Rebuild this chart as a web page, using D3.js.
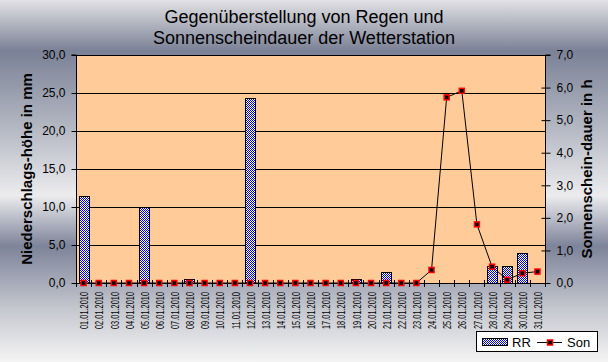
<!DOCTYPE html>
<html>
<head>
<meta charset="utf-8">
<script src="https://cdn.jsdelivr.net/npm/d3@7"></script>
<style>
html,body{margin:0;padding:0;background:#fff;}
svg{display:block;}
text{font-family:"Liberation Sans",Arial,sans-serif;fill:#000;}
</style>
</head>
<body>
<svg id="chart" width="608" height="362"></svg>
<script>
const dates = ["01.01.2010","02.01.2010","03.01.2010","04.01.2010","05.01.2010","06.01.2010","07.01.2010","08.01.2010","09.01.2010","10.01.2010","11.01.2010","12.01.2010","13.01.2010","14.01.2010","15.01.2010","16.01.2010","17.01.2010","18.01.2010","19.01.2010","20.01.2010","21.01.2010","22.01.2010","23.01.2010","24.01.2010","25.01.2010","26.01.2010","27.01.2010","28.01.2010","29.01.2010","30.01.2010","31.01.2010"];
const rr  = [11.4,0,0,0,10.0,0,0,0.5,0,0,0,24.4,0,0,0,0,0,0,0.5,0,1.4,0,0,0,0,0,0,2.2,2.2,3.9,0];
const son = [0,0,0,0,0,0,0,0,0,0,0,0,0,0,0,0,0,0,0,0,0,0,0,0.4,5.7,5.9,1.8,0.5,0.1,0.3,0.35];
const leftTicks = [0,5,10,15,20,25,30];
const rightTicks = [0,1,2,3,4,5,6,7];
const titleLines = ["Gegenüberstellung von Regen und","Sonnenscheindauer der Wetterstation"];
const leftTitle = "Niederschlags-höhe in mm";
const rightTitle = "Sonnenschein-dauer in h";
const seriesNames = ["RR","Son"];

const fmt = v => v.toFixed(1).replace(".", ",");
const svg = d3.select("#chart");
const W = 608, H = 362;
const m = {l:76, r:545, t:55, b:283};

const defs = svg.append("defs");
const grad = defs.append("linearGradient").attr("id","bg").attr("x1",0).attr("y1",0).attr("x2",0).attr("y2",1);
[[0,"#e2e2e5"],[0.14,"#7b8196"],[0.35,"#b3b7c2"],[0.54,"#ececee"],[0.68,"#7d8399"],[0.85,"#c4c6ce"],[1,"#f4f4f4"]]
  .forEach(([o,c]) => grad.append("stop").attr("offset",o).attr("stop-color",c));
const pat = defs.append("pattern").attr("id","chk").attr("patternUnits","userSpaceOnUse").attr("width",2).attr("height",2);
pat.append("rect").attr("width",2).attr("height",2).attr("fill","#fff");
pat.append("rect").attr("width",1).attr("height",1).attr("fill","#0000ff");
pat.append("rect").attr("x",1).attr("y",1).attr("width",1).attr("height",1).attr("fill","#0000ff");

svg.append("rect").attr("width",W).attr("height",H).attr("fill","url(#bg)");

const x = d3.scaleBand().domain(dates).range([m.l, m.r]).padding(0);
const yL = d3.scaleLinear().domain([0,30]).range([m.b, m.t]);
const yR = d3.scaleLinear().domain([0,7]).range([m.b, m.t]);

// plot area
svg.append("rect").attr("x",m.l).attr("y",m.t).attr("width",m.r-m.l).attr("height",m.b-m.t)
  .attr("fill","#ffcc99").attr("stroke","#000").attr("stroke-width",1).attr("shape-rendering","crispEdges");

// gridlines
svg.append("g").selectAll("line").data(leftTicks.filter(v => v>0 && v<30)).join("line")
  .attr("x1",m.l).attr("x2",m.r).attr("y1",d=>Math.round(yL(d))+0.5).attr("y2",d=>Math.round(yL(d))+0.5)
  .attr("stroke","#000").attr("stroke-width",1);

// bars
const bw = 10;
svg.append("g").selectAll("rect").data(dates.map((d,i)=>({d, v:rr[i]})).filter(o=>o.v>0)).join("rect")
  .attr("x", o => Math.round(x(o.d) + (x.bandwidth()-bw)/2)+0.5)
  .attr("y", o => Math.round(yL(o.v))+0.5)
  .attr("width", bw)
  .attr("height", o => Math.round(yL(0)) - Math.round(yL(o.v)))
  .attr("fill","url(#chk)").attr("stroke","#000").attr("stroke-width",1);

// left axis
const gL = svg.append("g").attr("transform",`translate(${m.l+0.5},0)`)
  .call(d3.axisLeft(yL).tickValues(leftTicks).tickFormat(fmt).tickSize(5).tickPadding(6));
gL.selectAll("text").attr("font-size","12px").attr("font-family","'Liberation Sans',Arial,sans-serif");
gL.selectAll("line,path").attr("stroke","#000");
gL.select(".domain").attr("d",`M-5,${m.t}H0V${m.b}`);

// right axis
const gR = svg.append("g").attr("transform",`translate(${m.r+0.5},0)`)
  .call(d3.axisRight(yR).tickValues(rightTicks).tickFormat(fmt).tickSize(5).tickPadding(6));
gR.selectAll("text").attr("font-size","12px").attr("font-family","'Liberation Sans',Arial,sans-serif");
gR.selectAll("line,path").attr("stroke","#000");
gR.selectAll(".tick line").attr("x1",-4);
gR.select(".domain").attr("d",`M5,${m.t}H0V${m.b}`);

// bottom axis
svg.append("line").attr("x1",m.l).attr("x2",m.r+4).attr("y1",m.b+0.5).attr("y2",m.b+0.5).attr("stroke","#000");
const bounds = dates.map(d => x(d)).concat([x(dates[dates.length-1]) + x.bandwidth()]);
svg.append("g").selectAll("line").data(bounds).join("line")
  .attr("x1",d=>Math.round(d)+0.5).attr("x2",d=>Math.round(d)+0.5)
  .attr("y1",m.b-3).attr("y2",m.b+4).attr("stroke","#000");
const gB = svg.append("g").attr("transform",`translate(0,${m.b})`)
  .call(d3.axisBottom(x).tickSize(0).tickPadding(0));
gB.select(".domain").remove();
gB.selectAll("text")
  .attr("font-size","10.5px").attr("font-family","'Liberation Sans',Arial,sans-serif")
  .attr("text-anchor","end").attr("transform","translate(1,9) rotate(-90)")
  .attr("dy","0.35em").attr("y",0).attr("x",0)
  .attr("textLength",37).attr("lengthAdjust","spacingAndGlyphs");

// sun line
const pts = dates.map((d,i)=>({d, v:son[i]}));
svg.append("path").datum(pts)
  .attr("d", d3.line().x(o=>x(o.d)+x.bandwidth()/2).y(o=>yR(o.v)))
  .attr("fill","none").attr("stroke","#000").attr("stroke-width",1);
svg.append("g").selectAll("rect").data(pts).join("rect")
  .attr("x", o => x(o.d)+x.bandwidth()/2-2.5).attr("y", o => yR(o.v)-2.5)
  .attr("width",5).attr("height",5).attr("fill","#000").attr("stroke","#ff0000").attr("stroke-width",1.5);

// titles
svg.append("g").selectAll("text").data(titleLines).join("text")
  .attr("x",304).attr("y",(d,i)=>23+i*21).attr("text-anchor","middle")
  .attr("font-size","18px").text(d=>d);
svg.append("text").attr("transform",`translate(32,${(m.t+m.b)/2}) rotate(-90)`)
  .attr("text-anchor","middle").attr("font-size","15px").attr("font-weight","bold").text(leftTitle);
svg.append("text").attr("transform",`translate(592,${(m.t+m.b)/2}) rotate(-90)`)
  .attr("text-anchor","middle").attr("font-size","15px").attr("font-weight","bold").text(rightTitle);

// legend
const lg = svg.append("g");
lg.append("rect").attr("x",476.5).attr("y",331.5).attr("width",121).attr("height",20)
  .attr("fill","#fff").attr("stroke","#000");
lg.append("rect").attr("x",482.5).attr("y",338.5).attr("width",25).attr("height",7)
  .attr("fill","url(#chk)").attr("stroke","#000");
lg.append("text").attr("x",512).attr("y",347).attr("font-size","13px").text(seriesNames[0]);
lg.append("line").attr("x1",537).attr("x2",562).attr("y1",342.5).attr("y2",342.5).attr("stroke","#000");
lg.append("rect").attr("x",547.5).attr("y",340).attr("width",5).attr("height",5)
  .attr("fill","#000").attr("stroke","#ff0000").attr("stroke-width",1.5);
lg.append("text").attr("x",567).attr("y",347).attr("font-size","13px").text(seriesNames[1]);
</script>
</body>
</html>
